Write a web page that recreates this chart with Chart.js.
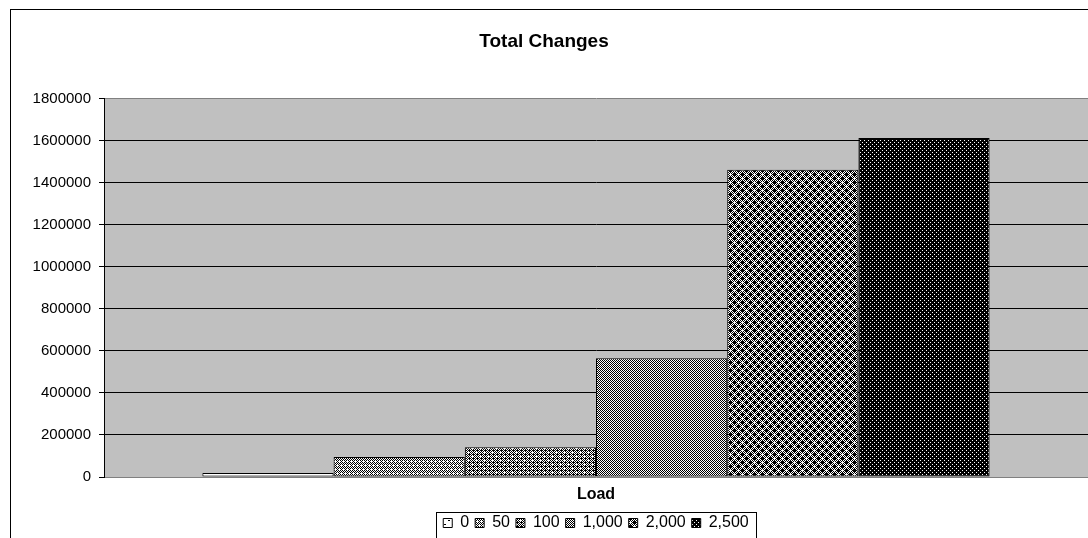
<!DOCTYPE html>
<html>
<head>
<meta charset="utf-8">
<script src="https://cdn.jsdelivr.net/npm/chart.js@4"></script>
<style>
  html, body { margin: 0; padding: 0; background: #fff; }
  canvas { display: block; }
</style>
</head>
<body>
<canvas id="changesChart" width="1088" height="538"></canvas>
<script>
// single category, one bar per load level
const categories = ['Load'];
const loadLevels = ['0', '50', '100', '1,000', '2,000', '2,500'];
const totalChanges = [19000, 95000, 141000, 565000, 1462000, 1613000];
const yTicks = [0, 200000, 400000, 600000, 800000, 1000000, 1200000, 1400000, 1600000, 1800000];

const FONT = 'Arial, "Liberation Sans", sans-serif';

// 8x8 black/white fill tiles, true = black pixel
function tile(test) {
  const c = document.createElement('canvas');
  c.width = 8; c.height = 8;
  const g = c.getContext('2d');
  g.fillStyle = '#fff';
  g.fillRect(0, 0, 8, 8);
  g.fillStyle = '#000';
  for (let y = 0; y < 8; y++) {
    for (let x = 0; x < 8; x++) {
      if (test(x, y)) g.fillRect(x, y, 1, 1);
    }
  }
  return g.createPattern(c, 'repeat');
}

const isAt = (x, y, pts) => pts.some(p => p[0] === x && p[1] === y);
const even = (x, y) => (x + y) % 2 === 0;
const near = (x, y, pts) => pts.some(p => Math.abs(p[0] - x) + Math.abs(p[1] - y) === 1);

const fills = [
  // sparse dashes
  tile((x, y) => (y === 0 && x < 2) || (y === 4 && (x === 4 || x === 5))),
  // checker with white crosses
  tile((x, y) => even(x, y) && !isAt(x, y, [[1, 1], [5, 1], [3, 5], [7, 5]])),
  // denser checker with a few white spots
  tile((x, y) => (even(x, y) || (x % 4 === 1 && y % 4 === 2)) && !isAt(x, y, [[0, 0], [4, 4]])),
  // fine checker
  tile((x, y) => even(x, y)),
  // dark lattice of black crosses
  tile((x, y) => (even(x, y) || near(x, y, [[2, 2], [6, 6]])) && !isAt(x, y, [[2, 6], [6, 2]])),
  // black with white dots
  tile((x, y) => !((x % 4 === 0 && y % 4 === 0) || (x % 4 === 2 && y % 4 === 2)))
];

const datasets = loadLevels.map((name, i) => ({
  label: name,
  data: [totalChanges[i]],
  backgroundColor: fills[i],
  borderColor: '#000',
  borderWidth: 1,
  borderSkipped: false
}));

// grey plot area, outer frame and the box around the legend
const frame = {
  id: 'frame',
  beforeDraw(chart) {
    const { ctx, chartArea: a } = chart;
    ctx.save();
    ctx.fillStyle = '#c0c0c0';
    ctx.fillRect(a.left, a.top, a.right - a.left, a.bottom - a.top);
    ctx.restore();
  },
  afterDraw(chart) {
    const ctx = chart.ctx;
    ctx.save();
    ctx.strokeStyle = '#000';
    ctx.lineWidth = 1;
    ctx.strokeRect(10.5, 9.5, 1200, 700);
    const boxes = chart.legend.legendHitBoxes;
    if (boxes && boxes.length) {
      const l = Math.min(...boxes.map(b => b.left)) - 7;
      const r = Math.max(...boxes.map(b => b.left + b.width)) + 7;
      const t = chart.legend.top + 3;
      ctx.strokeRect(Math.round(l) + 0.5, Math.round(t) + 0.5, Math.round(r - l), 60);
    }
    ctx.restore();
  }
};

new Chart(document.getElementById('changesChart'), {
  type: 'bar',
  data: { labels: categories, datasets: datasets },
  plugins: [frame],
  options: {
    responsive: false,
    animation: false,
    devicePixelRatio: 1,
    layout: { padding: { top: 0, left: 0, right: 0, bottom: -3 } },
    datasets: {
      bar: { categoryPercentage: 0.8, barPercentage: 1.0 }
    },
    plugins: {
      title: {
        display: true,
        text: 'Total Changes',
        color: '#000',
        font: { family: FONT, size: 19, weight: 'bold' },
        padding: { top: 30, bottom: 46 }
      },
      legend: {
        position: 'bottom',
        fullSize: false,
        labels: {
          color: '#000',
          boxWidth: 9,
          boxHeight: 9,
          padding: 6,
          font: { family: FONT, size: 16 }
        }
      },
      tooltip: { enabled: false }
    },
    scales: {
      x: {
        grid: { display: false },
        border: { display: false },
        ticks: {
          color: '#000',
          padding: 0,
          font: { family: FONT, size: 16, weight: 'bold' }
        },
        afterFit: s => { s.height = 32; }
      },
      y: {
        min: 0,
        max: 1800000,
        afterBuildTicks: s => { s.ticks = yTicks.map(v => ({ value: v })); },
        border: { display: true, color: '#000', width: 1 },
        grid: {
          color: c => (c.tick.value === 0 || c.tick.value === 1800000) ? '#808080' : '#000',
          tickColor: '#000',
          tickLength: 5
        },
        ticks: {
          color: '#000',
          padding: 8,
          font: { family: FONT, size: 15 },
          callback: v => String(v)
        },
        afterFit: s => { s.width = 104; }
      }
    }
  }
});
</script>
</body>
</html>
